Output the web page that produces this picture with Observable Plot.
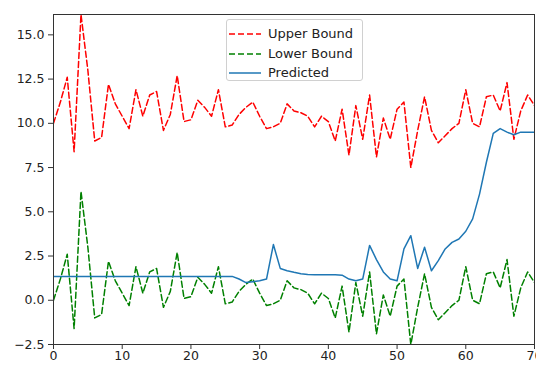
<!DOCTYPE html>
<html>
<head>
<meta charset="utf-8">
<script src="https://cdn.jsdelivr.net/npm/d3@7"></script>
<script src="https://cdn.jsdelivr.net/npm/@observablehq/plot@0.6"></script>
<style>
  html, body { margin: 0; padding: 0; background: #fff; }
  #wrap { position: relative; width: 536px; height: 365px; font-family: "DejaVu Sans", sans-serif; }
  #legend { position: absolute; left: 226px; top: 19px; width: 137px; height: 62px;
    border: 1px solid #d0d0d0; border-radius: 3px; background: rgba(255,255,255,0.85); box-sizing: border-box; }
  .row { position: absolute; left: 0; height: 20px; width: 100%; }
  .row svg { position: absolute; left: 1px; top: 0; }
  .row span { position: absolute; left: 41px; top: 1px; font-size: 13px; color: #222; line-height: 18px; white-space: nowrap; }
</style>
</head>
<body>
<div id="wrap"></div>
<script>
const seriesNames = ["Upper Bound", "Lower Bound", "Predicted"];
const seriesColors = ["#ff0000", "#008000", "#1f77b4"];
const xTicks = [0, 10, 20, 30, 40, 50, 60, 70];
const yTicks = [-2.5, 0, 2.5, 5, 7.5, 10, 12.5, 15];

const upper = [10.0, 11.2, 12.6, 8.4, 16.15, 13.0, 9.0, 9.2, 12.2, 11.1,
  10.4, 9.7, 11.9, 10.4, 11.6, 11.8, 9.6, 10.5, 12.7, 10.1,
  10.2, 11.3, 10.9, 10.4, 11.9, 9.8, 9.9, 10.5, 10.9, 11.2,
  10.4, 9.7, 9.8, 10.0, 11.1, 10.7, 10.6, 10.4, 9.8, 10.4,
  10.1, 9.0, 10.8, 8.2, 11.0, 9.1, 11.6, 8.1, 10.3, 9.1,
  10.8, 11.2, 7.5, 9.6, 11.5, 9.6, 8.9, 9.3, 9.7, 10.0,
  11.9, 10.0, 9.8, 11.5, 11.6, 10.7, 12.3, 9.1, 10.7, 11.6,
  11.0];
const lower = [0.0, 1.2, 2.6, -1.6, 6.15, 3.0, -1.0, -0.8, 2.2, 1.1,
  0.4, -0.3, 1.9, 0.4, 1.6, 1.8, -0.4, 0.5, 2.7, 0.1,
  0.2, 1.3, 0.9, 0.4, 1.9, -0.2, -0.1, 0.5, 0.9, 1.2,
  0.4, -0.3, -0.2, 0.0, 1.1, 0.7, 0.6, 0.4, -0.2, 0.4,
  0.1, -1.0, 0.8, -1.8, 1.0, -0.9, 1.6, -1.9, 0.3, -0.9,
  0.8, 1.2, -2.5, -0.4, 1.5, -0.4, -1.1, -0.7, -0.3, 0.0,
  1.9, 0.0, -0.2, 1.5, 1.6, 0.7, 2.3, -0.9, 0.7, 1.6,
  1.0];
const predicted = [1.35, 1.35, 1.35, 1.35, 1.35, 1.35, 1.35, 1.35, 1.35, 1.35,
  1.35, 1.35, 1.35, 1.35, 1.35, 1.35, 1.35, 1.35, 1.35, 1.35,
  1.35, 1.35, 1.35, 1.35, 1.35, 1.35, 1.35, 1.2, 1.0, 1.05,
  1.1, 1.2, 3.15, 1.8, 1.67, 1.58, 1.5, 1.45, 1.44, 1.44,
  1.44, 1.44, 1.42, 1.2, 1.1, 1.2, 3.1, 2.3, 1.6, 1.2,
  1.1, 2.9, 3.65, 1.8, 3.0, 1.67, 2.24, 2.9, 3.27, 3.46,
  3.9, 4.6, 6.0, 7.8, 9.43, 9.7, 9.5, 9.35, 9.5, 9.5,
  9.5];

const fmt = d => d.toFixed(1).replace("-", "\u2212");
const idx = (d, i) => i;

const chart = Plot.plot({
  width: 536,
  height: 365,
  marginLeft: 53,
  marginTop: 14,
  marginRight: 2,
  marginBottom: 21,
  style: { fontFamily: "DejaVu Sans, sans-serif", fontSize: "12.5px", color: "#222", background: "#fff" },
  x: { domain: [0, 70] },
  y: { domain: [-2.5, 16.15] },
  marks: [
    Plot.line(upper, { x: idx, y: d => d, stroke: seriesColors[0], strokeWidth: 1.5, strokeDasharray: "6,3", clip: true }),
    Plot.line(lower, { x: idx, y: d => d, stroke: seriesColors[1], strokeWidth: 1.5, strokeDasharray: "6,3", clip: true }),
    Plot.line(predicted, { x: idx, y: d => d, stroke: seriesColors[2], strokeWidth: 1.5, clip: true }),
    Plot.frame({ stroke: "#333", strokeWidth: 1 }),
    Plot.axisX(xTicks, { tickSize: 5, tickPadding: 2, tickFormat: d => String(d), label: null, stroke: "#333" }),
    Plot.axisY(yTicks, { tickSize: 5, tickPadding: 4, tickFormat: fmt, label: null, stroke: "#333" })
  ]
});

const wrap = document.getElementById("wrap");
wrap.appendChild(chart);

const legend = document.createElement("div");
legend.id = "legend";
const rowTops = [4, 24, 43];
seriesNames.forEach((name, i) => {
  const row = document.createElement("div");
  row.className = "row";
  row.style.top = rowTops[i] + "px";
  const dash = i < 2 ? ' stroke-dasharray="6,3"' : '';
  row.innerHTML = `<svg width="34" height="20"><line x1="1" y1="10" x2="33" y2="10" stroke="${seriesColors[i]}" stroke-width="1.5"${dash}/></svg><span>${name}</span>`;
  legend.appendChild(row);
});
wrap.appendChild(legend);
</script>
</body>
</html>
